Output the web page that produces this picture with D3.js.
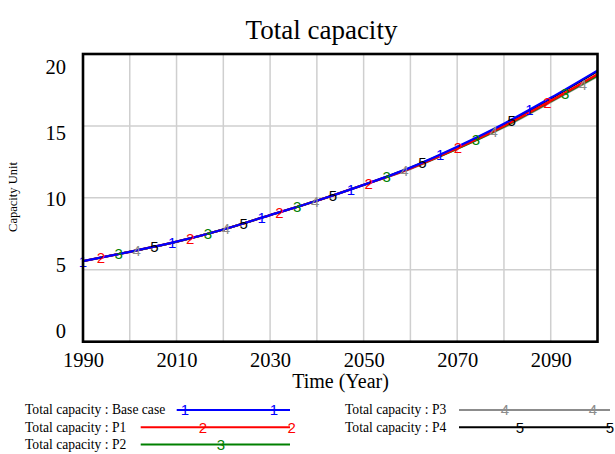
<!DOCTYPE html>
<html>
<head>
<meta charset="utf-8">
<script src="https://cdn.jsdelivr.net/npm/d3@7/dist/d3.min.js"></script>
<style>
  html, body { margin: 0; padding: 0; background: #fff; }
  svg { display: block; }
  .serif { font-family: "Liberation Serif", "Times New Roman", serif; fill: #000; }
  .mark { font-family: "Liberation Sans", Arial, sans-serif; }
</style>
</head>
<body>
<svg id="chart" width="615" height="454"></svg>
<script>
// Simulated total capacity by scenario (Capacity Unit), 1990-2100
const years    = [1990, 2000, 2010, 2020, 2030, 2040, 2050, 2060, 2070, 2080, 2090, 2100];
const baseCase = [5.6, 6.25, 6.95, 7.8, 8.8, 9.8, 10.9, 12.1, 13.55, 15.15, 16.95, 18.85];
const p1       = [5.6, 6.25, 6.95, 7.8, 8.8, 9.8, 10.9, 12.05, 13.45, 15.0, 16.75, 18.6];
const p2       = [5.6, 6.25, 6.95, 7.8, 8.8, 9.8, 10.9, 12.05, 13.4, 14.95, 16.7, 18.5];
const p3       = [5.6, 6.25, 6.95, 7.8, 8.8, 9.8, 10.9, 12.0, 13.4, 14.9, 16.65, 18.45];
const p4       = [5.6, 6.25, 6.95, 7.8, 8.8, 9.8, 10.9, 12.1, 13.5, 15.1, 16.9, 18.8];

const seriesNames  = ["Base case", "P1", "P2", "P3", "P4"];
const seriesValues = [baseCase, p1, p2, p3, p4];
const seriesColors = ["#0000ff", "#ff0000", "#008000", "#8c8c8c", "#000000"];

const xTickLabels = [1990, 2010, 2030, 2050, 2070, 2090];
const xGridYears  = [2000, 2010, 2020, 2030, 2040, 2050, 2060, 2070, 2080, 2090];
const yTickLabels = [0, 5, 10, 15, 20];
const yGridValues = [5, 10, 15];

const svg = d3.select("#chart");

const plot = { left: 83, right: 597.5, top: 54, bottom: 341.7 };
const x = d3.scaleLinear().domain([1990, 2100]).range([plot.left, plot.right]);
const y = d3.scaleLinear().domain([0, 20]).range([plot.bottom, plot.top]);
// value labels on the y axis are spread slightly inside the frame
const yLab = d3.scaleLinear().domain([0, 20]).range([331, 66.5]);

// title
svg.append("text").attr("class", "serif")
  .attr("x", 321.5).attr("y", 38.5)
  .attr("text-anchor", "middle").style("font-size", "27px")
  .text("Total capacity");

// grid
const grid = svg.append("g").attr("stroke", "#cfcfcf").attr("stroke-width", 1.5);
grid.selectAll("line.v").data(xGridYears).enter().append("line")
  .attr("x1", d => x(d)).attr("x2", d => x(d))
  .attr("y1", plot.top).attr("y2", plot.bottom);
grid.selectAll("line.h").data(yGridValues).enter().append("line")
  .attr("x1", plot.left).attr("x2", plot.right)
  .attr("y1", d => y(d)).attr("y2", d => y(d));

// x axis labels
const xAxis = d3.axisBottom(x).tickValues(xTickLabels).tickFormat(d3.format("d")).tickSize(0).tickPadding(0);
const gx = svg.append("g").attr("transform", `translate(0,${plot.bottom})`).call(xAxis);
gx.select(".domain").remove();
gx.selectAll("text").attr("class", "serif").attr("dy", null).attr("y", 25.5)
  .style("font-size", "20.5px").attr("fill", "#000");

// y axis labels
const yAxis = d3.axisLeft(yLab).tickValues(yTickLabels).tickFormat(d3.format("d")).tickSize(0).tickPadding(0);
const gy = svg.append("g").attr("transform", "translate(66,0)").call(yAxis);
gy.select(".domain").remove();
gy.selectAll("text").attr("class", "serif").attr("dy", "0.34em").attr("x", 0)
  .style("font-size", "20.5px").attr("fill", "#000");

// axis titles
svg.append("text").attr("class", "serif")
  .attr("x", 340.5).attr("y", 387.5).attr("text-anchor", "middle")
  .style("font-size", "20px").text("Time (Year)");
svg.append("text").attr("class", "serif")
  .attr("transform", "translate(17,197) rotate(-90)").attr("text-anchor", "middle")
  .style("font-size", "12.5px").text("Capacity Unit");

// series lines, last scenario first so the base case sits on top
const line = d3.line().x(d => x(d[0])).y(d => y(d[1])).curve(d3.curveMonotoneX);
const order = d3.range(seriesValues.length).reverse();
svg.append("g").selectAll("path").data(order).enter().append("path")
  .attr("d", i => line(years.map((yr, j) => [yr, seriesValues[i][j]])))
  .attr("fill", "none").attr("stroke", i => seriesColors[i])
  .attr("stroke-width", i => (i < 2 ? 2.3 : 2)).attr("stroke-linejoin", "round");

// numbered markers along the curves, cycling through the series
const markerStep = 3.818;
const interp = (vals, yr) => {
  const k = Math.min(years.length - 2, Math.max(0, d3.bisectRight(years, yr) - 1));
  const t = (yr - years[k]) / (years[k + 1] - years[k]);
  return vals[k] + t * (vals[k + 1] - vals[k]);
};
const markers = d3.range(29).map(k => {
  const s = k % 5, yr = 1990 + k * markerStep;
  return { s, yr, v: interp(seriesValues[s], yr) };
});
svg.append("g").selectAll("text").data(markers).enter().append("text")
  .attr("class", "mark")
  .attr("x", d => x(d.yr)).attr("y", d => y(d.v))
  .attr("dy", "0.36em").attr("text-anchor", "middle")
  .style("font-size", "15px").attr("fill", d => seriesColors[d.s])
  .text(d => d.s + 1);

// frame
svg.append("rect")
  .attr("x", plot.left).attr("y", plot.top)
  .attr("width", plot.right - plot.left).attr("height", plot.bottom - plot.top)
  .attr("fill", "none").attr("stroke", "#000").attr("stroke-width", 2.6);

// legend
const legendRows = [
  { s: 0, tx: 25,  ty: 410,   x1: 176.7, x2: 290, marks: [185, 274] },
  { s: 1, tx: 25,  ty: 427.3, x1: 140.7, x2: 290, marks: [203, 291.7] },
  { s: 2, tx: 25,  ty: 444.6, x1: 140.7, x2: 290, marks: [221] },
  { s: 3, tx: 345, ty: 410,   x1: 459,   x2: 610, marks: [505, 593] },
  { s: 4, tx: 345, ty: 427.3, x1: 459,   x2: 610, marks: [520, 610] }
];
const lg = svg.append("g").selectAll("g").data(legendRows).enter().append("g");
lg.append("text").attr("class", "serif")
  .attr("x", d => d.tx).attr("y", d => d.ty).attr("dy", "0.33em")
  .style("font-size", "13.6px")
  .text(d => "Total capacity : " + seriesNames[d.s]);
lg.append("line")
  .attr("x1", d => d.x1).attr("x2", d => d.x2)
  .attr("y1", d => d.ty).attr("y2", d => d.ty)
  .attr("stroke", d => seriesColors[d.s]).attr("stroke-width", 2);
lg.each(function(d) {
  d3.select(this).selectAll("text.mark").data(d.marks).enter().append("text")
    .attr("class", "mark").attr("x", m => m).attr("y", d.ty).attr("dy", "0.36em")
    .attr("text-anchor", "middle").style("font-size", "15px")
    .attr("fill", seriesColors[d.s]).text(d.s + 1);
});
</script>
</body>
</html>
